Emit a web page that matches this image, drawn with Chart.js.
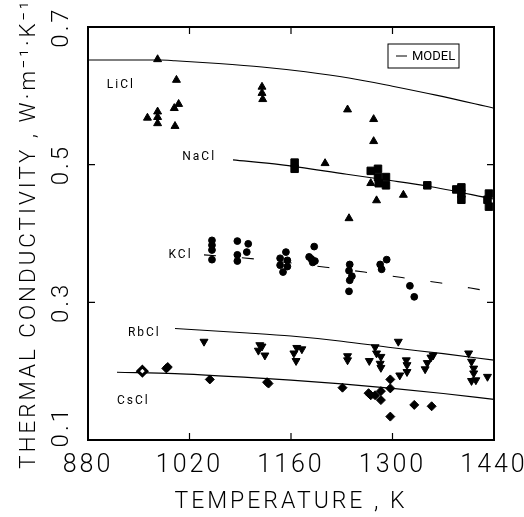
<!DOCTYPE html>
<html>
<head>
<meta charset="utf-8">
<script src="https://cdn.jsdelivr.net/npm/chart.js@4"></script>
<style>
  html, body { margin: 0; padding: 0; background: #fff; }
  canvas { display: block; }
</style>
</head>
<body>
<canvas id="myChart" width="524" height="517"></canvas>
<script>
// Thermal conductivity of molten alkali chlorides vs temperature

const xTicks = [880, 1020, 1160, 1300, 1440];
const yTicks = [0.1, 0.3, 0.5, 0.7];
const salts = ['LiCl', 'NaCl', 'KCl', 'RbCl', 'CsCl'];

// measured points, K and W/(m K)
const liclT = [962, 976, 976, 976, 976, 999, 1000, 1002, 1005, 1120, 1120, 1121, 1207, 1238, 1240, 1270, 1274, 1274, 1278, 1315];
const liclK = [0.568, 0.653, 0.577, 0.569, 0.560, 0.582, 0.556, 0.623, 0.588, 0.613, 0.604, 0.595, 0.502, 0.580, 0.422, 0.473, 0.566, 0.534, 0.448, 0.456];

const naclT = [1165, 1165, 1270, 1280, 1280, 1281, 1291, 1291, 1348, 1388, 1395, 1395, 1395, 1431, 1433, 1433];
const naclK = [0.503, 0.494, 0.491, 0.494, 0.482, 0.473, 0.482, 0.470, 0.470, 0.464, 0.467, 0.458, 0.449, 0.449, 0.458, 0.439];

const kclT = [1051, 1051, 1051, 1051, 1086, 1086, 1086, 1099, 1101, 1145, 1145, 1149, 1153, 1155, 1155, 1185, 1188, 1190, 1192, 1193, 1240, 1240, 1241, 1241, 1244, 1283, 1285, 1292, 1324, 1330];
const kclK = [0.390, 0.383, 0.376, 0.362, 0.389, 0.369, 0.360, 0.373, 0.385, 0.364, 0.354, 0.344, 0.373, 0.361, 0.352, 0.366, 0.363, 0.358, 0.381, 0.360, 0.346, 0.316, 0.355, 0.332, 0.338, 0.355, 0.348, 0.362, 0.324, 0.308];

const rbclT = [1040, 1117, 1120, 1115, 1124, 1168, 1175, 1164, 1167, 1238, 1238, 1268, 1276, 1278, 1284, 1283, 1284, 1308, 1310, 1319, 1320, 1320, 1345, 1348, 1353, 1356, 1405, 1409, 1412, 1412, 1409, 1415, 1431];
const rbclK = [0.243, 0.238, 0.236, 0.230, 0.223, 0.234, 0.232, 0.226, 0.215, 0.222, 0.216, 0.215, 0.235, 0.226, 0.221, 0.211, 0.205, 0.243, 0.194, 0.216, 0.209, 0.199, 0.203, 0.212, 0.220, 0.223, 0.226, 0.214, 0.204, 0.197, 0.186, 0.187, 0.192];

const csclT = [955, 988, 990, 1048, 1127, 1129, 1231, 1267, 1270, 1276, 1284, 1284, 1297, 1297, 1297, 1330, 1354];
const csclK = [0.200, 0.204, 0.206, 0.188, 0.184, 0.182, 0.176, 0.168, 0.165, 0.165, 0.171, 0.158, 0.188, 0.175, 0.134, 0.151, 0.149];

// model curves
const liclModelT = [880, 940, 980, 1000, 1060, 1120, 1180, 1240, 1300, 1360, 1440];
const liclModelK = [0.652, 0.652, 0.652, 0.651, 0.647, 0.642, 0.635, 0.626, 0.614, 0.601, 0.582];
const naclModelT = [1080, 1145, 1237, 1290, 1348, 1440];
const naclModelK = [0.507, 0.500, 0.486, 0.478, 0.469, 0.450];
const kclModelT = [1040, 1110, 1208, 1261, 1313, 1367, 1428];
const kclModelK = [0.369, 0.363, 0.351, 0.344, 0.336, 0.328, 0.317];
const rbclModelT = [1000, 1100, 1160, 1230, 1300, 1370, 1440];
const rbclModelK = [0.262, 0.2555, 0.251, 0.2435, 0.234, 0.2255, 0.216];
const csclModelT = [920, 1000, 1100, 1160, 1230, 1300, 1370, 1440];
const csclModelK = [0.1985, 0.1965, 0.191, 0.187, 0.1815, 0.175, 0.1675, 0.159];

const pts = (xs, ys) => xs.map((x, i) => ({x: x, y: ys[i]}));

const fam = 'Roboto, "Liberation Sans", sans-serif';

function marks(label, xs, ys, style, r, rot) {
    return {
        label: label,
        data: pts(xs, ys),
        showLine: false,
        pointStyle: style,
        pointRadius: r,
        pointRotation: rot || 0,
        pointBackgroundColor: '#000',
        pointBorderColor: '#000',
        pointBorderWidth: 1
    };
}

function model(label, xs, ys, dash) {
    return {
        label: label + ' model',
        data: pts(xs, ys),
        showLine: true,
        borderColor: '#000',
        borderWidth: 1.1,
        borderDash: dash || [],
        cubicInterpolationMode: 'monotone',
        pointRadius: 0
    };
}

let cs = marks(salts[4], csclT, csclK, 'rectRot', 4.5);
cs.pointBackgroundColor = csclT.map((t, i) => i === 0 ? '#fff' : '#000');
cs.pointBorderWidth = csclT.map((t, i) => i === 0 ? 3 : 1);

// text labels placed beside each family, in data units
const saltLabelAt = [[906, 0.616], [1010, 0.511], [991, 0.369], [935, 0.256], [920, 0.157]];

const decor = {
    id: 'decor',
    beforeUpdate(chart) { chart.ctx.letterSpacing = '3px'; },
    beforeDraw(chart) { chart.ctx.letterSpacing = '3px'; },
    afterDatasetsDraw(chart) {
        const {ctx, chartArea: a, scales: {x, y}} = chart;
        ctx.save();
        ctx.strokeStyle = '#000';
        ctx.lineWidth = 1.2;
        ctx.beginPath();
        xTicks.slice(1, -1).forEach(v => {
            const px = x.getPixelForValue(v);
            ctx.moveTo(px, a.bottom); ctx.lineTo(px, a.bottom - 7);
            ctx.moveTo(px, a.top); ctx.lineTo(px, a.top + 7);
        });
        yTicks.slice(1, -1).forEach(v => {
            const py = y.getPixelForValue(v);
            ctx.moveTo(a.left, py); ctx.lineTo(a.left + 7, py);
            ctx.moveTo(a.right, py); ctx.lineTo(a.right - 7, py);
        });
        ctx.stroke();
        ctx.lineWidth = 2;
        ctx.strokeRect(a.left, a.top, a.right - a.left, a.bottom - a.top);

        // series names
        ctx.fillStyle = '#000';
        ctx.font = '12px ' + fam;
        ctx.letterSpacing = '2px';
        ctx.textBaseline = 'middle';
        ctx.textAlign = 'left';
        salts.forEach((s, i) => {
            ctx.fillText(s, x.getPixelForValue(saltLabelAt[i][0]), y.getPixelForValue(saltLabelAt[i][1]));
        });

        // legend box
        const bx = a.right - 106, by = a.top + 17;
        ctx.lineWidth = 1;
        ctx.strokeRect(bx, by, 71, 24);
        ctx.beginPath();
        ctx.moveTo(bx + 8, by + 12); ctx.lineTo(bx + 19, by + 12);
        ctx.stroke();
        ctx.letterSpacing = '0px';
        ctx.font = '13px ' + fam;
        ctx.fillText('MODEL', bx + 24, by + 12.5);
        ctx.restore();
    }
};

const ctx = document.getElementById('myChart').getContext('2d');
const myChart = new Chart(ctx, {
    type: 'scatter',
    data: {
        datasets: [
            marks(salts[0], liclT, liclK, 'triangle', 4.6),
            marks(salts[1], naclT, naclK, 'rect', 5.3),
            marks(salts[2], kclT, kclK, 'circle', 3.4),
            marks(salts[3], rbclT, rbclK, 'triangle', 4.6, 180),
            cs,
            model(salts[0], liclModelT, liclModelK),
            model(salts[1], naclModelT, naclModelK),
            model(salts[2], kclModelT, kclModelK, [12, 26]),
            model(salts[3], rbclModelT, rbclModelK),
            model(salts[4], csclModelT, csclModelK)
        ]
    },
    options: {
        responsive: false,
        animation: false,
        devicePixelRatio: 1,
        layout: { padding: { top: 27, right: 30, left: 0, bottom: 0 } },
        plugins: { legend: { display: false }, tooltip: { enabled: false } },
        scales: {
            x: {
                type: 'linear',
                min: 880,
                max: 1440,
                afterBuildTicks: s => { s.ticks = xTicks.map(v => ({value: v})); },
                afterFit: s => { s.height = 77; s.paddingLeft = 0; s.paddingRight = 0; },
                grid: { display: false, drawTicks: false },
                border: { display: false },
                ticks: {
                    color: '#000',
                    autoSkip: false,
                    maxRotation: 0,
                    padding: 11,
                    font: { family: fam, size: 25, weight: 300 },
                    callback: v => String(v)
                },
                title: {
                    display: true,
                    text: 'TEMPERATURE , K',
                    color: '#000',
                    font: { family: fam, size: 23, weight: 300 },
                    padding: { top: 0, bottom: 1 }
                }
            },
            y: {
                type: 'linear',
                min: 0.1,
                max: 0.7,
                afterBuildTicks: s => { s.ticks = yTicks.map(v => ({value: v})); },
                afterFit: s => { s.width = 88; s.paddingTop = 0; s.paddingBottom = 0; },
                grid: { display: false, drawTicks: false },
                border: { display: false },
                ticks: {
                    color: '#000',
                    autoSkip: false,
                    minRotation: 90,
                    maxRotation: 90,
                    crossAlign: 'center',
                    padding: -8,
                    font: { family: fam, size: 24, weight: 300 },
                    callback: v => (v === 0.1 ? '   ' : '') + v.toFixed(1)
                },
                title: {
                    display: true,
                    text: 'THERMAL CONDUCTIVITY , W\u00b7m\u207b\u00b9\u00b7K\u207b\u00b9',
                    color: '#000',
                    font: { family: fam, size: 22.4, weight: 300 },
                    padding: { top: 16, bottom: 0 }
                }
            }
        }
    },
    plugins: [decor]
});
</script>
</body>
</html>
